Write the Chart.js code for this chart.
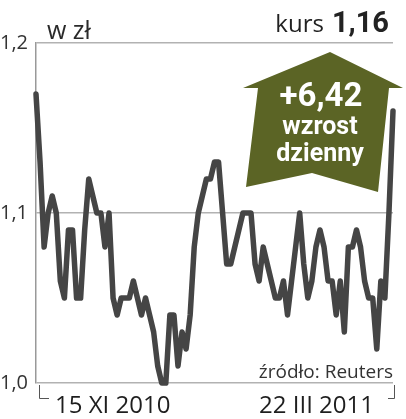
<!DOCTYPE html>
<html>
<head>
<meta charset="utf-8">
<script src="https://cdn.jsdelivr.net/npm/chart.js@4"></script>
<style>
  html, body { margin: 0; padding: 0; background: #fff; }
  #wrap { width: 406px; height: 419px; }
</style>
</head>
<body>
<div id="wrap"><canvas id="kursChart" width="406" height="419"></canvas></div>
<script>
// notowania dzienne, 15 XI 2010 - 22 III 2011
const kurs = [
  1.17, 1.13, 1.08, 1.10, 1.11, 1.10, 1.06, 1.05, 1.09, 1.09,
  1.05, 1.05, 1.09, 1.12, 1.11, 1.10, 1.10, 1.08, 1.10, 1.05,
  1.04, 1.05, 1.05, 1.05, 1.06, 1.05, 1.04, 1.05, 1.04, 1.03,
  1.01, 1.00, 1.00, 1.04, 1.04, 1.01, 1.03, 1.02, 1.04, 1.08,
  1.10, 1.11, 1.12, 1.12, 1.13, 1.13, 1.10, 1.07, 1.07, 1.08,
  1.09, 1.10, 1.10, 1.10, 1.07, 1.06, 1.08, 1.07, 1.06, 1.05,
  1.05, 1.06, 1.04, 1.06, 1.08, 1.10, 1.07, 1.05, 1.06, 1.08,
  1.09, 1.08, 1.06, 1.06, 1.04, 1.06, 1.03, 1.08, 1.08, 1.09,
  1.08, 1.06, 1.05, 1.05, 1.02, 1.06, 1.05, 1.10, 1.16
];
const dni = kurs.map((_, i) => i);
const dateLabels = ['15 XI 2010', '22 III 2011'];
const yTicks = [1.0, 1.1, 1.2];
const lastPrice = '1,16';
const change = '+6,42';

const LIGHT = '"Open Sans", "DejaVu Sans", sans-serif';
const NARROW = '"Liberation Sans Narrow", Roboto, sans-serif';

const decor = {
  id: 'decor',
  beforeDatasetsDraw(chart) {
    const c = chart.ctx;
    // strzalka
    c.save();
    c.fillStyle = '#5b6425';
    c.beginPath();
    c.moveTo(330, 52);
    c.lineTo(403, 88);
    c.lineTo(389, 88);
    c.lineTo(378, 192);
    c.lineTo(312, 173);
    c.lineTo(246, 187);
    c.lineTo(258, 88);
    c.lineTo(243, 88);
    c.closePath();
    c.fill();
    c.fillStyle = '#fff';
    c.textAlign = 'center';
    c.textBaseline = 'alphabetic';
    c.font = 'bold 33px ' + NARROW;
    c.fillText(change, 321, 106);
    c.font = 'bold 25px ' + NARROW;
    c.fillText('wzrost', 320, 134);
    c.fillText('dzienny', 320, 161);
    c.restore();
  },
  afterDraw(chart) {
    const c = chart.ctx;
    const x = chart.scales.x;
    const x0 = x.getPixelForValue(0);
    const x1 = x.getPixelForValue(kurs.length - 1);
    c.save();
    c.strokeStyle = '#555';
    c.lineWidth = 1;
    c.beginPath();
    c.moveTo(x0 + 3.5, 385); c.lineTo(x0 + 3.5, 398.5); c.lineTo(x0 + 13, 398.5);
    c.moveTo(x1 + 1.5, 385); c.lineTo(x1 + 1.5, 398.5); c.lineTo(x1 - 5, 398.5);
    c.stroke();

    c.fillStyle = '#1e1e1e';
    c.textBaseline = 'alphabetic';
    c.font = '24px ' + LIGHT;
    c.textAlign = 'left';
    c.fillText(dateLabels[0], 55, 413);
    c.textAlign = 'right';
    c.fillText(dateLabels[1], 374, 413);

    c.fillStyle = '#333';
    c.font = '19px ' + LIGHT;
    c.fillText('źródło: Reuters', 393, 378);

    c.textAlign = 'left';
    c.fillStyle = '#2a2a2a';
    c.font = '25px ' + LIGHT;
    c.fillText('w zł', 47, 39);

    c.fillStyle = '#222';
    c.font = 'bold 29px ' + NARROW;
    c.textAlign = 'right';
    c.fillText(lastPrice, 389, 32);
    const w = c.measureText(lastPrice).width;
    c.font = '24px ' + LIGHT;
    c.fillText('kurs', 389 - w - 8, 32);
    c.restore();
  }
};

new Chart(document.getElementById('kursChart'), {
  type: 'line',
  data: {
    labels: dni,
    datasets: [{
      data: kurs,
      borderColor: '#454545',
      borderWidth: 5.5,
      pointRadius: 0,
      tension: 0,
      clip: false,
      borderJoinStyle: 'round',
      borderCapStyle: 'round'
    }]
  },
  options: {
    responsive: false,
    animation: false,
    layout: { padding: { top: 43, bottom: 36, right: 13, left: 0 } },
    plugins: { legend: { display: false }, tooltip: { enabled: false } },
    scales: {
      x: {
        display: false,
        offset: false
      },
      y: {
        min: 1.0,
        max: 1.2,
        afterFit(scale) { scale.width = 36; },
        afterBuildTicks(scale) { scale.ticks = yTicks.map(v => ({ value: v })); },
        ticks: {
          padding: 8,
          color: '#333',
          font: { family: '"Open Sans", sans-serif', size: 20 },
          callback: v => v.toFixed(1).replace('.', ',')
        },
        grid: { color: '#b2b2b2', lineWidth: 1.5, drawTicks: false },
        border: { display: true, color: '#999', width: 1.5 }
      }
    }
  },
  plugins: [decor]
});
</script>
</body>
</html>
